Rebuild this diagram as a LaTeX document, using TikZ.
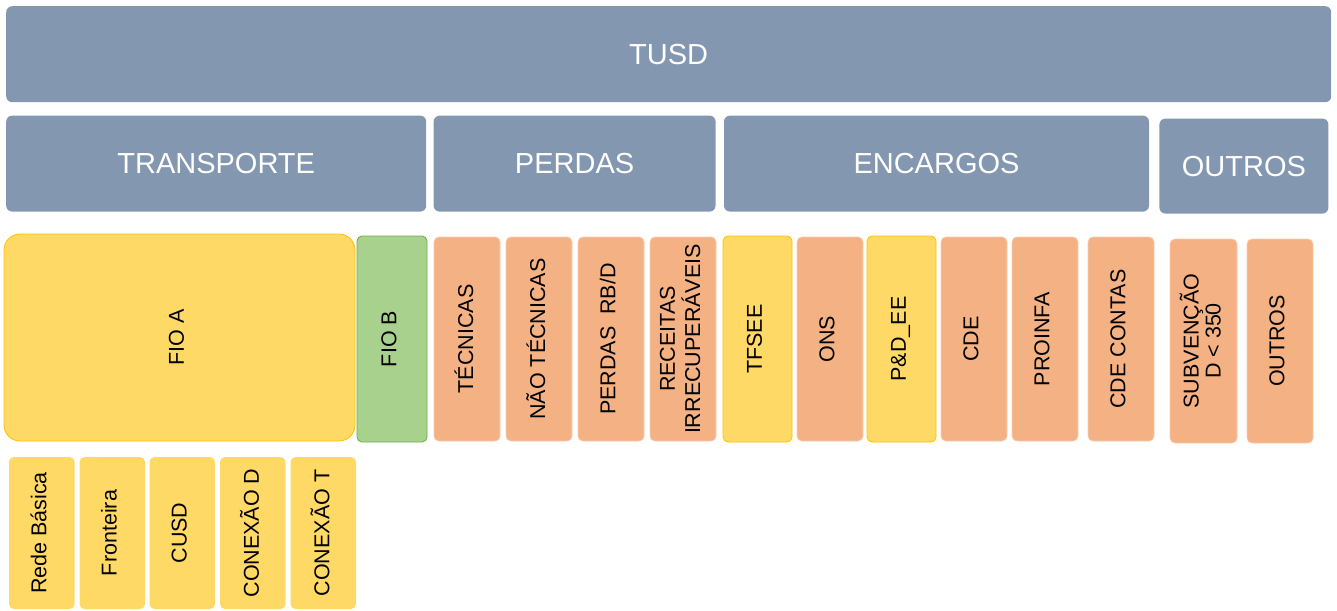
\documentclass[tikz,border=0pt]{standalone}
\usepackage{graphicx}
\usepackage{fontspec}
\setmainfont{Liberation Sans}
\usetikzlibrary{positioning}
\definecolor{tusdblue}{HTML}{8497B0}
\definecolor{fioyellow}{HTML}{FFD966}
\definecolor{fioyline}{HTML}{FFC000}
\definecolor{fiogreen}{HTML}{A9D18E}
\definecolor{fiogline}{HTML}{70AD47}
\definecolor{partorange}{HTML}{F4B183}
\definecolor{partoline}{HTML}{F8CBAD}
\tikzstyle{head} = [rectangle, rounded corners=6pt, fill=tusdblue, text=white,
    font=\fontsize{29}{34}\selectfont, minimum height=96pt, inner sep=0pt]
\tikzstyle{part} = [rectangle, rounded corners=5pt, draw=partoline, line width=0.8pt,
    fill=partorange, minimum width=66pt, minimum height=204pt, inner sep=0pt, outer sep=0pt,
    font=\fontsize{21.5}{22}\selectfont]
\tikzstyle{yel} = [part, draw=fioyline, fill=fioyellow, minimum width=69pt, minimum height=206pt]
\tikzstyle{sub} = [part, draw=none, fill=fioyellow, minimum width=65.5pt, minimum height=152pt]
\newcommand{\vtxt}[1]{\rotatebox{90}{\begin{tabular}{@{}c@{}}#1\end{tabular}}}

\begin{document}
\begin{tikzpicture}[node distance=6pt]
    \useasboundingbox (0,0) rectangle (1337pt,-610pt);
    % We start by placing the header blocks
    \node [head, minimum width=1325pt, anchor=north west] (tusd) at (6pt,-6pt) {TUSD};
    \node [head, minimum width=420pt, below right=13pt and 0pt of tusd.south west] (transp) {TRANSPORTE};
    \node [head, minimum width=282pt, right=7pt of transp] (perdas) {PERDAS};
    \node [head, minimum width=425pt, right=8pt of perdas] (encargos) {ENCARGOS};
    \node [head, minimum width=169pt, minimum height=95pt, right=10pt of encargos, yshift=-2.5pt] (outros) {OUTROS};

    % Then the parts of each group
    \node [yel, rounded corners=16pt, minimum width=351pt, minimum height=207pt, anchor=north west] (fioa) at (4pt,-234pt) {\vtxt{FIO A}};
    \node [part, draw=fiogline, fill=fiogreen, minimum width=70pt, minimum height=206pt, right=2pt of fioa, yshift=-1.5pt] (fiob) {\vtxt{FIO B}};
    \node [part, right=7pt of fiob] (tecnicas) {\vtxt{TÉCNICAS}};
    \node [part, right=6pt of tecnicas] (naotec) {\vtxt{NÃO TÉCNICAS}};
    \node [part, right=6pt of naotec] (perdasrb) {\vtxt{PERDAS~~RB/D}};
    \node [part, right=6pt of perdasrb] (receitas) {\vtxt{RECEITAS\\IRRECUPERÁVEIS}};
    \node [yel, right=7pt of receitas] (tfsee) {\vtxt{TFSEE}};
    \node [part, right=5pt of tfsee] (ons) {\vtxt{ONS}};
    \node [yel, right=4pt of ons] (ped) {\vtxt{P\&D\_EE}};
    \node [part, right=5pt of ped] (cde) {\vtxt{CDE}};
    \node [part, right=5pt of cde] (proinfa) {\vtxt{PROINFA}};
    \node [part, right=10pt of proinfa] (cdecontas) {\vtxt{CDE CONTAS}};
    \node [part, minimum width=67pt, right=16pt of cdecontas, yshift=-2pt] (subv) {\vtxt{SUBVENÇÃO\\D < 350}};
    \node [part, right=10pt of subv] (outrosb) {\vtxt{OUTROS}};

    % Parts of FIO A
    \node [sub, anchor=north west] (rede) at (9pt,-457pt) {\vtxt{Rede Básica}};
    \node [sub, right=5pt of rede] (fronteira) {\vtxt{Fronteira}};
    \node [sub, right=4.5pt of fronteira] (cusd) {\vtxt{CUSD}};
    \node [sub, right=5pt of cusd] (conexd) {\vtxt{CONEXÃO D}};
    \node [sub, right=5pt of conexd] (conext) {\vtxt{CONEXÃO T}};
\end{tikzpicture}
\end{document}
